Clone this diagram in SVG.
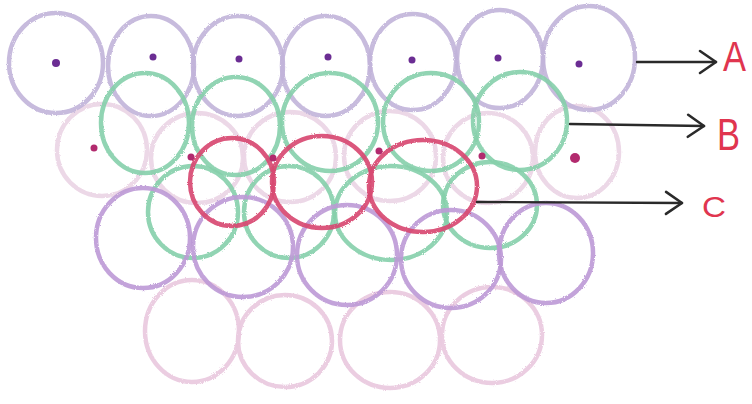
<svg xmlns="http://www.w3.org/2000/svg" width="752" height="404" viewBox="0 0 752 404">
<defs>
<filter id="rough" x="-5%" y="-5%" width="110%" height="110%">
<feTurbulence type="fractalNoise" baseFrequency="0.9" numOctaves="2" seed="3" result="n"/>
<feDisplacementMap in="SourceGraphic" in2="n" scale="2.5"/>
</filter>
<marker id="ah" viewBox="0 0 20 26" refX="18" refY="13" markerWidth="20" markerHeight="26" markerUnits="userSpaceOnUse" orient="auto">
<path d="M2,2 L18,13 L2,24" fill="none" stroke="#2a2a2a" stroke-width="2.6" stroke-linecap="round" stroke-linejoin="round"/>
</marker>
</defs>
<style>
.c{fill:none;stroke-width:4.5;filter:url(#rough)}
.a{stroke:#c2b4da;opacity:.9}
.p{stroke:#ecd6e6;opacity:.95}
.g{stroke:#86d0ab;opacity:.9}
.r{stroke:#d84a72;opacity:.92}
.u{stroke:#bd9ad6;opacity:.9}
.l{stroke:#eacbe0;opacity:.95}
.d1{fill:#6b2d93}
.d2{fill:#b22a6e}
.lab{font-family:"Liberation Sans",Arial,sans-serif;fill:#e0354f}
.ar{stroke:#2a2a2a;stroke-width:2.4;fill:none;stroke-linecap:round}
</style>
<rect width="752" height="404" fill="#ffffff"/>
<g id="rowP">
<ellipse class="c p" cx="102" cy="150" rx="45" ry="46"/>
<ellipse class="c p" cx="197" cy="158" rx="46" ry="45"/>
<ellipse class="c p" cx="290" cy="157" rx="46" ry="45"/>
<ellipse class="c p" cx="390" cy="156" rx="46" ry="45"/>
<ellipse class="c p" cx="488" cy="158" rx="45" ry="45"/>
<ellipse class="c p" cx="577" cy="152" rx="42" ry="46"/>
</g>
<g id="rowA">
<ellipse class="c a" cx="56" cy="63" rx="47" ry="50"/>
<ellipse class="c a" cx="151" cy="66" rx="43" ry="50"/>
<ellipse class="c a" cx="238" cy="66" rx="45" ry="50"/>
<ellipse class="c a" cx="326" cy="66" rx="44" ry="50"/>
<ellipse class="c a" cx="413" cy="62" rx="43" ry="48"/>
<ellipse class="c a" cx="500" cy="59" rx="43" ry="49"/>
<ellipse class="c a" cx="589" cy="58" rx="46" ry="52"/>
</g>
<g id="rowL">
<ellipse class="c l" cx="192" cy="331" rx="47" ry="51"/>
<ellipse class="c l" cx="285" cy="341" rx="47" ry="46"/>
<ellipse class="c l" cx="390" cy="340" rx="50" ry="48"/>
<ellipse class="c l" cx="492" cy="335" rx="50" ry="48"/>
</g>
<g id="rowB">
<ellipse class="c g" cx="145" cy="123" rx="44" ry="50"/>
<ellipse class="c g" cx="236" cy="126" rx="44" ry="49"/>
<ellipse class="c g" cx="330" cy="122" rx="48" ry="49"/>
<ellipse class="c g" cx="431" cy="122" rx="48" ry="49"/>
<ellipse class="c g" cx="520" cy="121" rx="47" ry="49"/>
</g>
<g id="rowG2">
<ellipse class="c g" cx="193" cy="212" rx="45" ry="46"/>
<ellipse class="c g" cx="289" cy="212" rx="45" ry="46"/>
<ellipse class="c g" cx="391" cy="213" rx="56" ry="47"/>
<ellipse class="c g" cx="490" cy="205" rx="47" ry="43"/>
</g>
<g id="rowU">
<ellipse class="c u" cx="143" cy="238" rx="47" ry="50"/>
<ellipse class="c u" cx="243" cy="247" rx="50" ry="50"/>
<ellipse class="c u" cx="347" cy="255" rx="50" ry="50"/>
<ellipse class="c u" cx="451" cy="259" rx="50" ry="49"/>
<ellipse class="c u" cx="546" cy="253" rx="47" ry="50"/>
</g>
<g id="rowC">
<ellipse class="c r" cx="232" cy="182" rx="42" ry="44"/>
<ellipse class="c r" cx="322" cy="182" rx="50" ry="46"/>
<ellipse class="c r" cx="423" cy="186" rx="54" ry="46"/>
</g>
<g id="dots">
<circle class="d1" cx="56" cy="63" r="4"/>
<circle class="d1" cx="153" cy="57" r="3.5"/>
<circle class="d1" cx="239" cy="59" r="3.5"/>
<circle class="d1" cx="328" cy="57" r="3.5"/>
<circle class="d1" cx="412" cy="60" r="3.5"/>
<circle class="d1" cx="498" cy="58" r="3.5"/>
<circle class="d1" cx="579" cy="64" r="3.5"/>
<circle class="d2" cx="94" cy="148" r="3.5"/>
<circle class="d2" cx="191" cy="157" r="3.5"/>
<circle class="d2" cx="273" cy="158" r="3.5"/>
<circle class="d2" cx="379" cy="151" r="3.5"/>
<circle class="d2" cx="482" cy="156" r="3.5"/>
<circle class="d2" cx="575" cy="158" r="5"/>
</g>
<g id="connectors">
<path class="ar" d="M637,62 L716,62" marker-end="url(#ah)"/>
<path class="ar" d="M570,124 L704,126" marker-end="url(#ah)"/>
<path class="ar" d="M477,202 L682,203" marker-end="url(#ah)"/>
</g>
<g id="labels">
<text class="lab" x="723" y="71" font-size="42" textLength="23" lengthAdjust="spacingAndGlyphs">A</text>
<text class="lab" x="717" y="150" font-size="45" textLength="23" lengthAdjust="spacingAndGlyphs">B</text>
<text class="lab" x="702" y="217" font-size="30" textLength="24" lengthAdjust="spacingAndGlyphs">C</text>
</g>
</svg>
